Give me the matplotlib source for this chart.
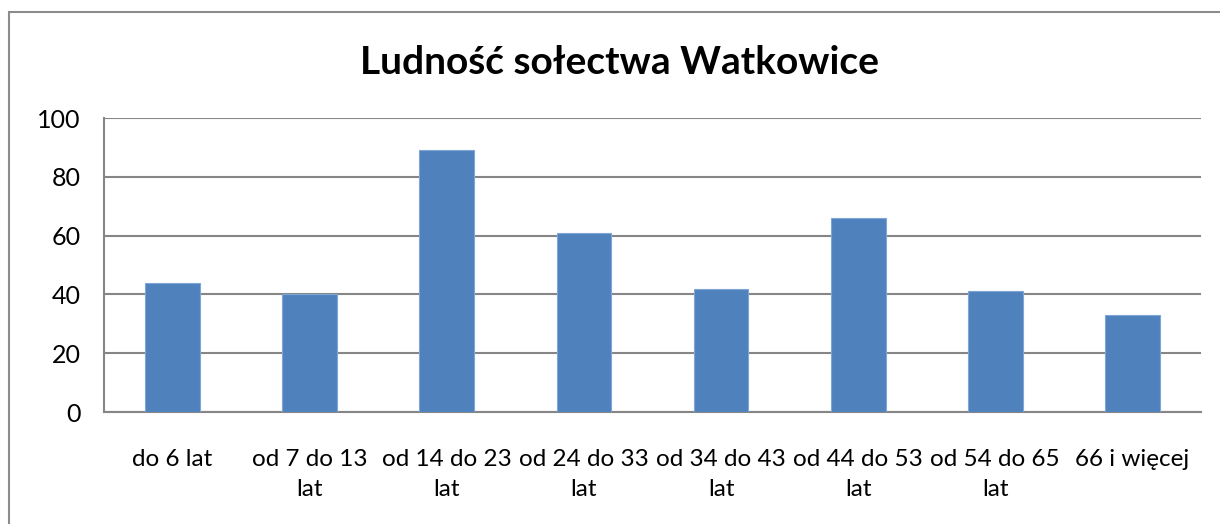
import matplotlib.pyplot as plt
from matplotlib.patches import Rectangle

# dane
kategorie = ["do 6 lat", "od 7 do 13\nlat", "od 14 do 23\nlat", "od 24 do 33\nlat",
             "od 34 do 43\nlat", "od 44 do 53\nlat", "od 54 do 65\nlat", "66 i więcej"]
ludnosc = [44, 40, 89, 61, 42, 66, 41, 33]
osie_y = [0, 20, 40, 60, 80, 100]

plt.rcParams['font.family'] = ['Lato', 'DejaVu Sans']

fig = plt.figure(figsize=(12.2, 5.24), dpi=100)
W, H = 1220, 524

# ramka wykresu (ucięta z prawej i z dołu)
fig.patches.append(Rectangle((9 / W, -0.1), 2, 1 - 12 / H + 0.1,
                             transform=fig.transFigure, fill=False,
                             edgecolor='#8c8c8c', linewidth=1.5))

ax = fig.add_axes([104 / W, 1 - 412 / H, (1201 - 104) / W, (412 - 118) / H])

x = range(len(kategorie))
ax.bar(x, ludnosc, width=0.4, color='#4F81BD', edgecolor='#7FA6D6',
       linewidth=0.8, zorder=3)

ax.set_xlim(-0.5, len(kategorie) - 0.5)
ax.set_ylim(0, 100)
ax.set_yticks(osie_y)
ax.set_xticks(list(x))
ax.set_xticklabels(kategorie, fontsize=17.5, linespacing=1.5)
ax.tick_params(axis='y', labelsize=18, length=0, pad=17)
ax.tick_params(axis='x', length=0, pad=27)
for t in ax.get_xticklabels():
    t.set_verticalalignment('top')

ax.grid(axis='y', color='#868686', linewidth=1.5, zorder=0)
for s in ['top', 'right']:
    ax.spines[s].set_visible(False)
for s in ['left', 'bottom']:
    ax.spines[s].set_color('#868686')
    ax.spines[s].set_linewidth(1.5)

fig.text(620 / W, 1 - 62 / H, "Ludność sołectwa Watkowice", ha='center',
         va='center', fontsize=28, fontweight='bold')

fig.savefig("out.png", dpi=100)
